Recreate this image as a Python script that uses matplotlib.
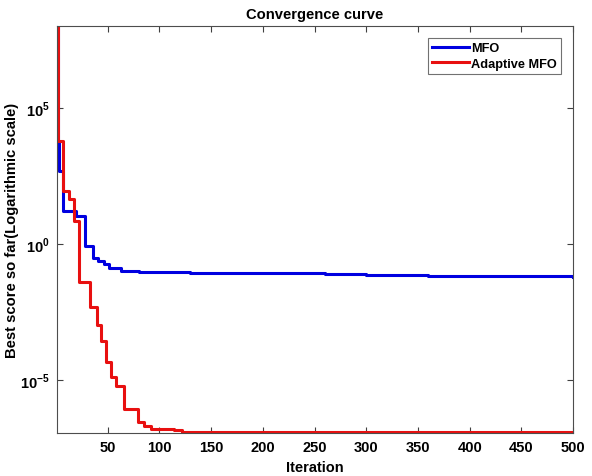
import matplotlib

matplotlib.use("Agg")
import matplotlib.pyplot as plt
import numpy as np
from matplotlib.ticker import FixedLocator, FuncFormatter, NullLocator

plt.rcParams["font.family"] = "Liberation Sans"
plt.rcParams["font.weight"] = "bold"
plt.rcParams["mathtext.fontset"] = "custom"
plt.rcParams["mathtext.rm"] = "Liberation Sans:bold"
plt.rcParams["mathtext.bf"] = "Liberation Sans:bold"

# change points of the best-so-far curves (iteration, best score)
mfo_iter = [1, 2, 3, 7, 19, 28, 36, 41, 46, 51, 63, 72, 80, 90, 130, 200, 260, 300,
            360, 430, 500]
mfo_score = [1e8, 6.0e3, 4.8e2, 1.6e1, 1.07e1, 8.5e-1, 3.1e-1, 2.35e-1, 1.8e-1,
             1.3e-1, 1.02e-1, 9.9e-2, 9.6e-2, 9.3e-2, 8.9e-2, 8.4e-2, 8.0e-2,
             7.3e-2, 6.9e-2, 6.5e-2, 6.3e-2]

amfo_iter = [1, 2, 7, 13, 17, 22, 33, 40, 44, 48, 53, 58, 66, 79, 85, 92, 114, 122, 500]
amfo_score = [1e8, 6.2e3, 8.9e1, 4.5e1, 7.0e0, 4.0e-2, 4.8e-3, 1.05e-3, 2.7e-4,
              4.6e-5, 1.3e-5, 6.0e-6, 8.5e-7, 2.9e-7, 2.0e-7, 1.6e-7, 1.45e-7,
              1.23e-7, 1.12e-7]

x_ticks = [50, 100, 150, 200, 250, 300, 350, 400, 450, 500]
y_ticks = [1e-5, 1e0, 1e5]

fig = plt.figure(figsize=(5.92, 4.77), dpi=100)
ax = fig.add_axes([0.0963, 0.0901, 0.8717, 0.8533])

ax.plot(mfo_iter, mfo_score, color="#0000e0", lw=2.2, drawstyle="steps-post", label="MFO")
ax.plot(amfo_iter, amfo_score, color="#e81010", lw=2.2, drawstyle="steps-post",
        label="Adaptive MFO")

ax.set_yscale("log")
ax.set_xlim(1, 500)
ax.set_ylim(1.12e-7, 1.03e8)
ax.xaxis.set_major_locator(FixedLocator(x_ticks))
ax.yaxis.set_major_locator(FixedLocator(y_ticks))
ax.yaxis.set_minor_locator(NullLocator())
ax.yaxis.set_major_formatter(FuncFormatter(lambda v, p: r"$10^{%d}$" % round(np.log10(v))))

ax.tick_params(direction="in", top=True, right=True, length=4, width=0.8,
               color="0.25", labelsize=10.5, pad=5)
for s in ax.spines.values():
    s.set_color("0.3")
    s.set_linewidth(0.8)

ax.set_title("Convergence curve", fontsize=10.6, fontweight="bold", pad=6)
ax.set_xlabel("Iteration", fontsize=10.5, fontweight="bold", labelpad=4)
ax.set_ylabel("Best score so far(Logarithmic scale)", fontsize=10.6,
              fontweight="bold", labelpad=1)

leg = ax.legend(loc="upper right", bbox_to_anchor=(0.985, 0.98),
                prop={"weight": "bold", "size": 9.2}, frameon=True, fancybox=False,
                borderpad=0.35, handlelength=2.9, handletextpad=0.15,
                labelspacing=0.25, borderaxespad=0.3)
leg.get_frame().set_edgecolor("0.3")
leg.get_frame().set_linewidth(0.8)

fig.savefig("out.png", dpi=100)
